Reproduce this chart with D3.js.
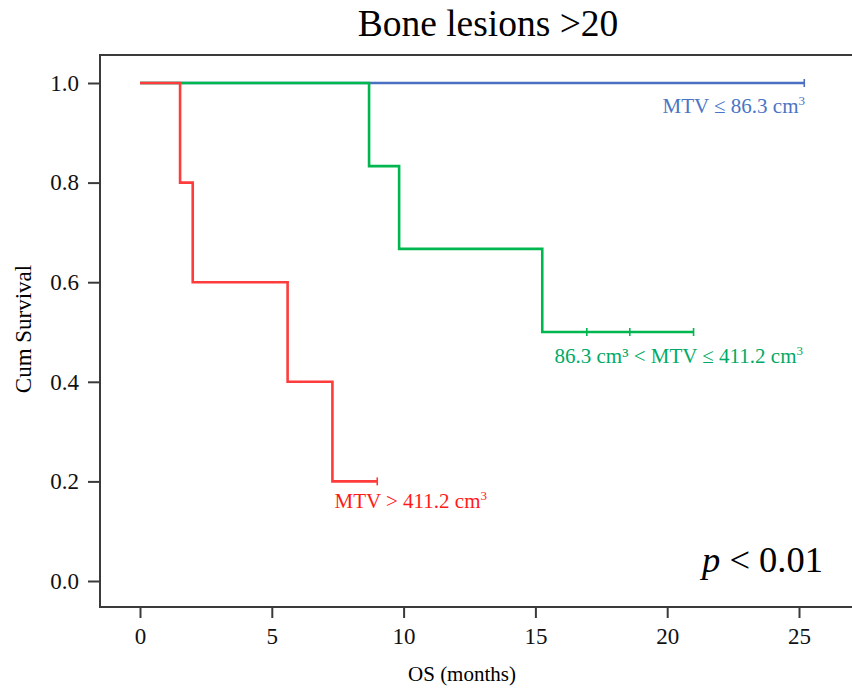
<!DOCTYPE html>
<html>
<head>
<meta charset="utf-8">
<script src="https://cdn.jsdelivr.net/npm/d3@7"></script>
<style>
	body { margin: 0; background: #fff; }
	svg { display: block; font-family: 'Liberation Serif', 'Times New Roman', serif; }
</style>
</head>
<body>
<svg id="chart" width="852" height="689"></svg>
<script>
// survival steps, [months, cum survival]
const lowSteps = [[0, 1]]
const lowCensor = [25.2]
const midSteps = [[0, 1], [8.69, 0.833], [9.83, 0.667], [15.26, 0.5]]
const midCensor = [16.95, 18.58, 21.0]
const highSteps = [[0, 1], [1.52, 0.8], [2.0, 0.6], [5.6, 0.4], [7.3, 0.2]]
const highCensor = [9.0]

const xTicks = [0, 5, 10, 15, 20, 25]
const yTicks = [0, 0.2, 0.4, 0.6, 0.8, 1.0]

const groups = [
	{ name: 'low', steps: lowSteps, censor: lowCensor, color: '#4a6fc0', label: 'MTV ≤ 86.3 cm', labelColor: '#4a74c4' },
	{ name: 'mid', steps: midSteps, censor: midCensor, color: '#00b64f', label: '86.3 cm³ < MTV ≤ 411.2 cm', labelColor: '#00aa66' },
	{ name: 'high', steps: highSteps, censor: highCensor, color: '#ff3c3c', label: 'MTV > 411.2 cm', labelColor: '#ff1a1a' }
]

const $svg = d3.select('#chart')
const $gAxes = $svg.append('g').attr('class', 'g-axes')
const $gViz = $svg.append('g').attr('class', 'g-viz')

const scaleX = d3.scaleLinear().domain([0, 25]).range([140, 799])
const scaleY = d3.scaleLinear().domain([0, 1]).range([581, 83])

const frameLeft = 100
const frameTop = 55
const frameBottom = 607

// title
$svg.append('text')
	.attr('x', 488)
	.attr('y', 36)
	.attr('text-anchor', 'middle')
	.style('font-size', '37.5px')
	.text('Bone lesions >20')

// frame (right side runs off the picture)
$gAxes.append('path')
	.attr('d', `M852,${frameTop}H${frameLeft}V${frameBottom}H852`)
	.attr('fill', 'none')
	.attr('stroke', '#3a3a3a')
	.attr('stroke-width', 2)

const yAxis = d3.axisLeft(scaleY)
	.tickValues(yTicks)
	.tickFormat(d3.format('.1f'))
	.tickSize(12)
	.tickPadding(9)

$gAxes.append('g')
	.attr('transform', `translate(${frameLeft},0)`)
	.call(yAxis)

const xAxis = d3.axisBottom(scaleX)
	.tickValues(xTicks)
	.tickSize(11)
	.tickPadding(10)

$gAxes.append('g')
	.attr('transform', `translate(0,${frameBottom})`)
	.call(xAxis)

$gAxes.selectAll('.domain').remove()
$gAxes.selectAll('.tick line').attr('stroke', '#3a3a3a').attr('stroke-width', 2)
$gAxes.selectAll('.tick text')
	.attr('fill', '#111')
	.style('font-family', "'Liberation Serif', serif")
	.style('font-size', '23px')

$gAxes.append('text')
	.attr('transform', 'translate(31,329) rotate(-90)')
	.attr('text-anchor', 'middle')
	.style('font-size', '23px')
	.text('Cum Survival')

$gAxes.append('text')
	.attr('x', 462)
	.attr('y', 681)
	.attr('text-anchor', 'middle')
	.style('font-size', '21px')
	.text('OS (months)')

// curves
const line = d3.line()
	.x(d => scaleX(d[0]))
	.y(d => scaleY(d[1]))
	.curve(d3.curveStepAfter)

groups.forEach(g => {
	const last = g.steps[g.steps.length - 1]
	const end = d3.max(g.censor)
	const pts = g.steps.concat([[end, last[1]]])
	const $g = $gViz.append('g').attr('class', `person ${g.name}`)

	$g.append('path')
		.datum(pts)
		.attr('d', line)
		.attr('fill', 'none')
		.attr('stroke', g.color)
		.attr('stroke-width', 2.6)

	// censor ticks sit on the curve at that time
	$g.selectAll('line.censor')
		.data(g.censor)
		.enter()
		.append('line')
		.attr('class', 'censor')
		.attr('x1', d => scaleX(d))
		.attr('x2', d => scaleX(d))
		.attr('y1', d => scaleY(g.steps.filter(s => s[0] <= d).pop()[1]) - 4)
		.attr('y2', d => scaleY(g.steps.filter(s => s[0] <= d).pop()[1]) + 4)
		.attr('stroke', g.color)
		.attr('stroke-width', 1.6)
})

// group labels
const labelPos = { low: [805, 113], mid: [803, 363], high: [487, 508] }
groups.forEach(g => {
	const t = $gViz.append('text')
		.attr('x', labelPos[g.name][0])
		.attr('y', labelPos[g.name][1])
		.attr('text-anchor', 'end')
		.attr('fill', g.labelColor)
		.style('font-size', '21px')
	t.append('tspan').text(g.label)
	t.append('tspan')
		.attr('dy', -8)
		.style('font-size', '13px')
		.text('3')
})

// p value
const $p = $svg.append('text')
	.attr('x', 823)
	.attr('y', 572)
	.attr('text-anchor', 'end')
	.style('font-size', '36.5px')
$p.append('tspan').style('font-style', 'italic').text('p')
$p.append('tspan').text(' < 0.01')
</script>
</body>
</html>
